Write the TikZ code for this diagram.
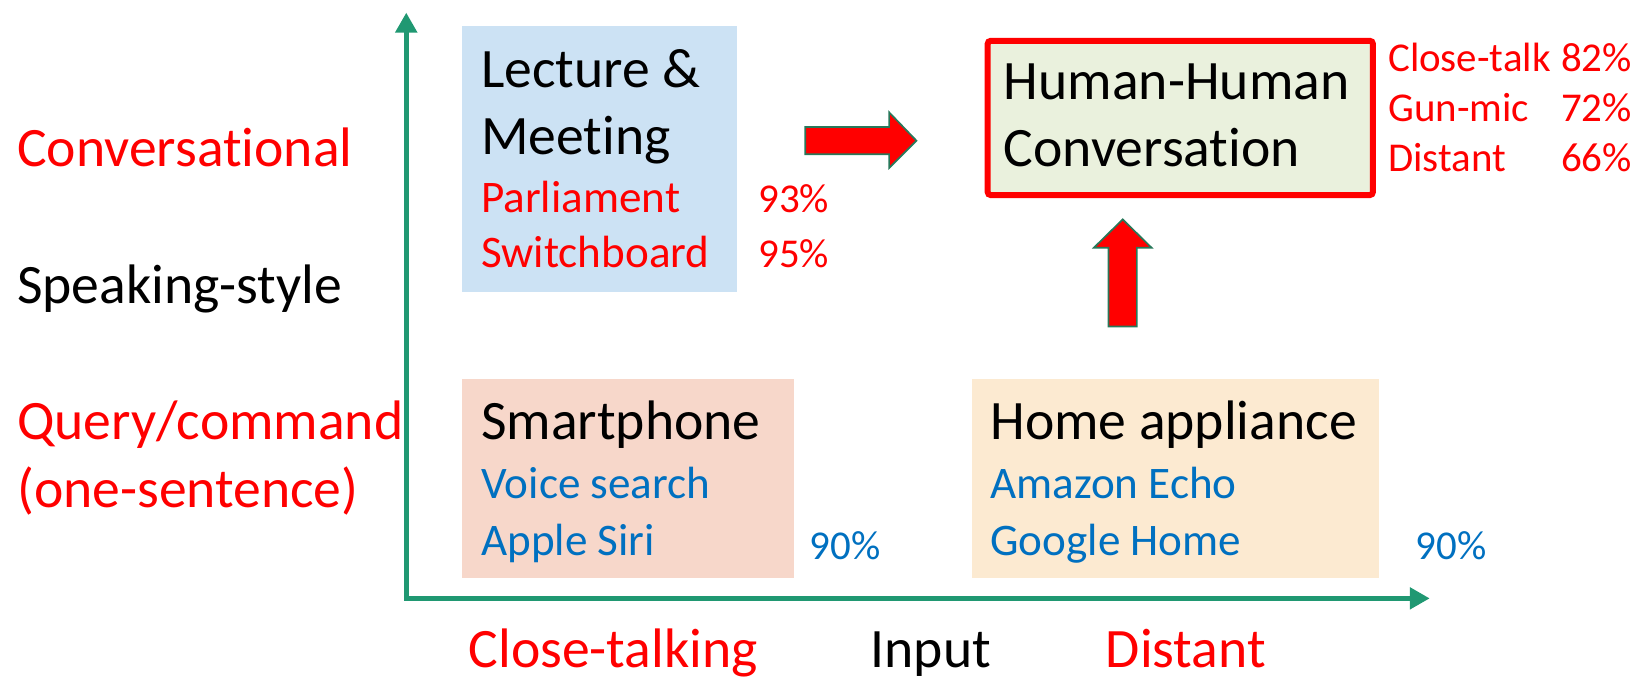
\documentclass[tikz,border=0pt]{standalone}
\usepackage{fontspec}
\setmainfont{Carlito}[Ligatures=NoCommon]
\usetikzlibrary{arrows.meta}
\definecolor{axisgreen}{RGB}{32,152,114}
\definecolor{arrowedge}{RGB}{40,120,90}
\definecolor{txtred}{RGB}{255,0,0}
\definecolor{txtblue}{RGB}{0,112,192}
\definecolor{fillblue}{RGB}{204,226,244}
\definecolor{fillgreen}{RGB}{234,241,221}
\definecolor{fillpink}{RGB}{247,215,202}
\definecolor{fillorange}{RGB}{252,234,209}
\begin{document}
\begin{tikzpicture}[x=0.5pt,y=-0.5pt,
  big/.style={font=\fontsize{26.5}{32}\selectfont, inner sep=0pt, anchor=base west},
  sub/.style={font=\fontsize{21.5}{26}\selectfont, inner sep=0pt, anchor=base west},
  small/.style={font=\fontsize{19.5}{24}\selectfont, inner sep=0pt, anchor=base west},
  panel/.style={draw=none, inner sep=0pt, anchor=north west},
  axis/.style={draw=axisgreen, line width=2.4pt,
    {Triangle[length=9.5pt,width=10pt]}-{Triangle[length=9.5pt,width=10pt]}},
  blockarrow/.style={fill=red, draw=arrowedge, line width=0.8pt, line join=miter}
]
\useasboundingbox (0,0) rectangle (1568,649);

% category panels
\node[panel, fill=fillblue, minimum width=131pt, minimum height=127pt] (lect) at (440,24) {};
\node[panel, fill=fillpink, minimum width=158pt, minimum height=94.5pt] (phone) at (440,361) {};
\node[panel, fill=fillorange, minimum width=193.5pt, minimum height=94.5pt] (home) at (926,361) {};
\node[panel, fill=fillgreen, draw=red, line width=2.85pt, rounded corners=1.5pt,
  minimum width=183.5pt, minimum height=73.5pt] (hh) at (938,36) {};

% axes
\coordinate (ytip) at (387,12);
\coordinate (orig) at (387,570);
\coordinate (xtip) at (1362,570);
\draw[axis] (ytip) -- (orig) -- (xtip);

% vertical axis labels
\node[big, text=txtred] (conv) at (16,159) {Conversational};
\node[big] (style) at (16,289) {Speaking-style};
\node[big, text=txtred] (query) at (16,419) {Query/command};
\node[big, text=txtred] (onesent) at (16,483) {(one-sentence)};

% horizontal axis labels
\node[big, text=txtred] (close) at (446,636) {Close-talking};
\node[big] (input) at (829,636) {Input};
\node[big, text=txtred] (dist) at (1053,636) {Distant};

% lecture & meeting
\node[big] (lect1) at (458,83) {Lecture \&};
\node[big] (lect2) at (458,147) {Meeting};
\node[sub, text=txtred] (parl) at (458,202) {Parliament};
\node[sub, text=txtred] (swb) at (458,255) {Switchboard};
\node[small, text=txtred] (parlp) at (722,202) {93\%};
\node[small, text=txtred] (swbp) at (722,255) {95\%};

% human-human conversation
\node[big] (hh1) at (956,95) {Human-Human};
\node[big] (hh2) at (956,159) {Conversation};
\node[small, text=txtred] (ct) at (1322,68) {Close-talk};
\node[small, text=txtred] (gm) at (1322,116) {Gun-mic};
\node[small, text=txtred] (ds) at (1322,163.5) {Distant};
\node[small, text=txtred, anchor=base east] (ctp) at (1555,68) {82\%};
\node[small, text=txtred, anchor=base east] (gmp) at (1555,116) {72\%};
\node[small, text=txtred, anchor=base east] (dsp) at (1555,163.5) {66\%};

% smartphone
\node[big] (sp) at (458,419) {Smartphone};
\node[sub, text=txtblue] (vs) at (458,475) {Voice search};
\node[sub, text=txtblue] (siri) at (458,529) {Apple Siri};
\node[small, text=txtblue] (spp) at (771,533) {90\%};

% home appliance
\node[big] (ha) at (943,419) {Home appliance};
\node[sub, text=txtblue] (echo) at (943,475) {Amazon Echo};
\node[sub, text=txtblue] (gh) at (943,529) {Google Home};
\node[small, text=txtblue] (hap) at (1348,533) {90\%};

% block arrows
\draw[blockarrow] (767,121) -- (847,121) -- (847,107) -- (873,134) -- (847,160)
  -- (847,147) -- (767,147) -- cycle;
\draw[blockarrow] (1056,311) -- (1056,236) -- (1042,236) -- (1069.5,209) -- (1097,236)
  -- (1083,236) -- (1083,311) -- cycle;
\end{tikzpicture}
\end{document}
